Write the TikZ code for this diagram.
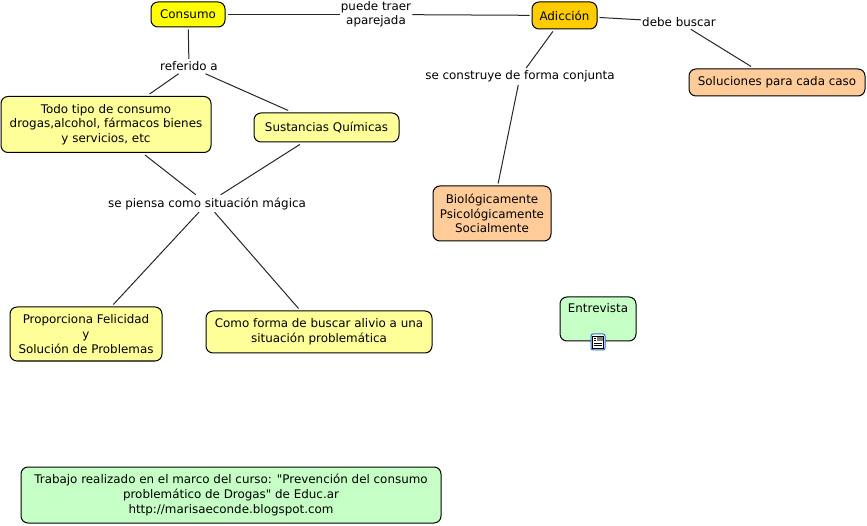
\documentclass[tikz,border=0pt]{standalone}
\usepackage{fontspec}
\setmainfont{DejaVu Sans}[Ligatures=TeXOff]
\definecolor{conceptyellow}{HTML}{FFFF99}
\definecolor{conceptorange}{HTML}{FFCC99}
\definecolor{conceptgreen}{HTML}{C6FFC6}
\definecolor{consumoyellow}{HTML}{FFFF00}
\definecolor{adiccionorange}{HTML}{FFCC00}
\definecolor{iconblue}{HTML}{2A6FC9}
\tikzset{
  concept/.style={draw=black,line width=1pt,rounded corners=7pt,align=center,inner sep=0pt,outer sep=2.5pt,font=\fontsize{11.9}{14.6}\selectfont},
  linkword/.style={align=center,inner xsep=1pt,inner ysep=2.5pt,font=\fontsize{11.9}{14}\selectfont},
  linkline/.style={line width=1pt,black!85}
}
\begin{document}
\begin{tikzpicture}[x=1pt,y=-1pt]
\useasboundingbox (0,0) rectangle (867,526);
\node[concept,fill=consumoyellow,minimum width=74pt,minimum height=25pt] (consumo) at (188,14.5) {Consumo};
\node[concept,fill=adiccionorange,minimum width=65pt,minimum height=27pt] (adiccion) at (564.5,15.5) {Adicción};
\node[concept,fill=conceptorange,minimum width=176pt,minimum height=27pt] (soluciones) at (777,82.5) {Soluciones para cada caso};
\node[concept,fill=conceptyellow,minimum width=210pt,minimum height=56pt] (todo) at (106,124.5) {Todo tipo de consumo\\drogas,alcohol, fármacos bienes\\y servicios, etc};
\node[concept,fill=conceptyellow,minimum width=145pt,minimum height=29pt] (sustancias) at (326.5,127.5) {Sustancias Químicas};
\node[concept,fill=conceptorange,minimum width=118pt,minimum height=55pt] (factores) at (492,213.5) {Biológicamente\\Psicológicamente\\Socialmente};
\node[concept,fill=conceptyellow,minimum width=152pt,minimum height=54pt] (felicidad) at (86,334) {Proporciona Felicidad\\y\\Solución de Problemas};
\node[concept,fill=conceptyellow,minimum width=226pt,minimum height=42pt] (alivio) at (319,332) {Como forma de buscar alivio a una\\situación problemática};
\node[concept,fill=conceptgreen,minimum width=76pt,minimum height=44pt,text depth=22pt] (entrevista) at (598,319) {Entrevista};
\node[concept,fill=conceptgreen,minimum width=420pt,minimum height=56pt] (trabajo) at (231,495) {Trabajo realizado en el marco del curso: "Prevención del consumo\\problemático de Drogas" de Educ.ar\\http://marisaeconde.blogspot.com};
\node[linkword] (puede) at (376,14.5) {puede traer\\aparejada};
\node[linkword] (debe) at (679,22) {debe buscar};
\node[linkword] (construye) at (520,76.5) {se construye de forma conjunta};
\node[linkword] (referido) at (189,66.5) {referido a};
\node[linkword] (piensa) at (207,203.5) {se piensa como situación mágica};
\draw[linkline] (consumo) -- (puede);
\draw[linkline] (puede) -- (adiccion);
\draw[linkline] (adiccion) -- (debe);
\draw[linkline] (debe) -- (soluciones);
\draw[linkline] (adiccion) -- (construye);
\draw[linkline] (construye) -- (factores);
\draw[linkline] (consumo) -- (referido);
\draw[linkline] (referido) -- (todo);
\draw[linkline] (referido) -- (sustancias);
\draw[linkline] (todo) -- (piensa);
\draw[linkline] (sustancias) -- (piensa);
\draw[linkline] (piensa) -- (felicidad);
\draw[linkline] (piensa) -- (alivio);
\node[draw=iconblue,fill=white,line width=1pt,rounded corners=2pt,minimum width=14pt,minimum height=16pt,inner sep=0pt] (icono) at (598,342) {};
\draw[black,line width=0.7pt] (592.5,336) rectangle (603.5,348);
\fill[gray] (597,337.5) rectangle (602.5,341.5);
\draw[black,line width=0.6pt] (594,343) -- (602,343);
\draw[black,line width=0.6pt] (594,345.5) -- (602,345.5);
\draw[black,line width=0.6pt] (594,338) -- (596,338);
\draw[black,line width=0.6pt] (594,340.5) -- (596,340.5);
\end{tikzpicture}
\end{document}
